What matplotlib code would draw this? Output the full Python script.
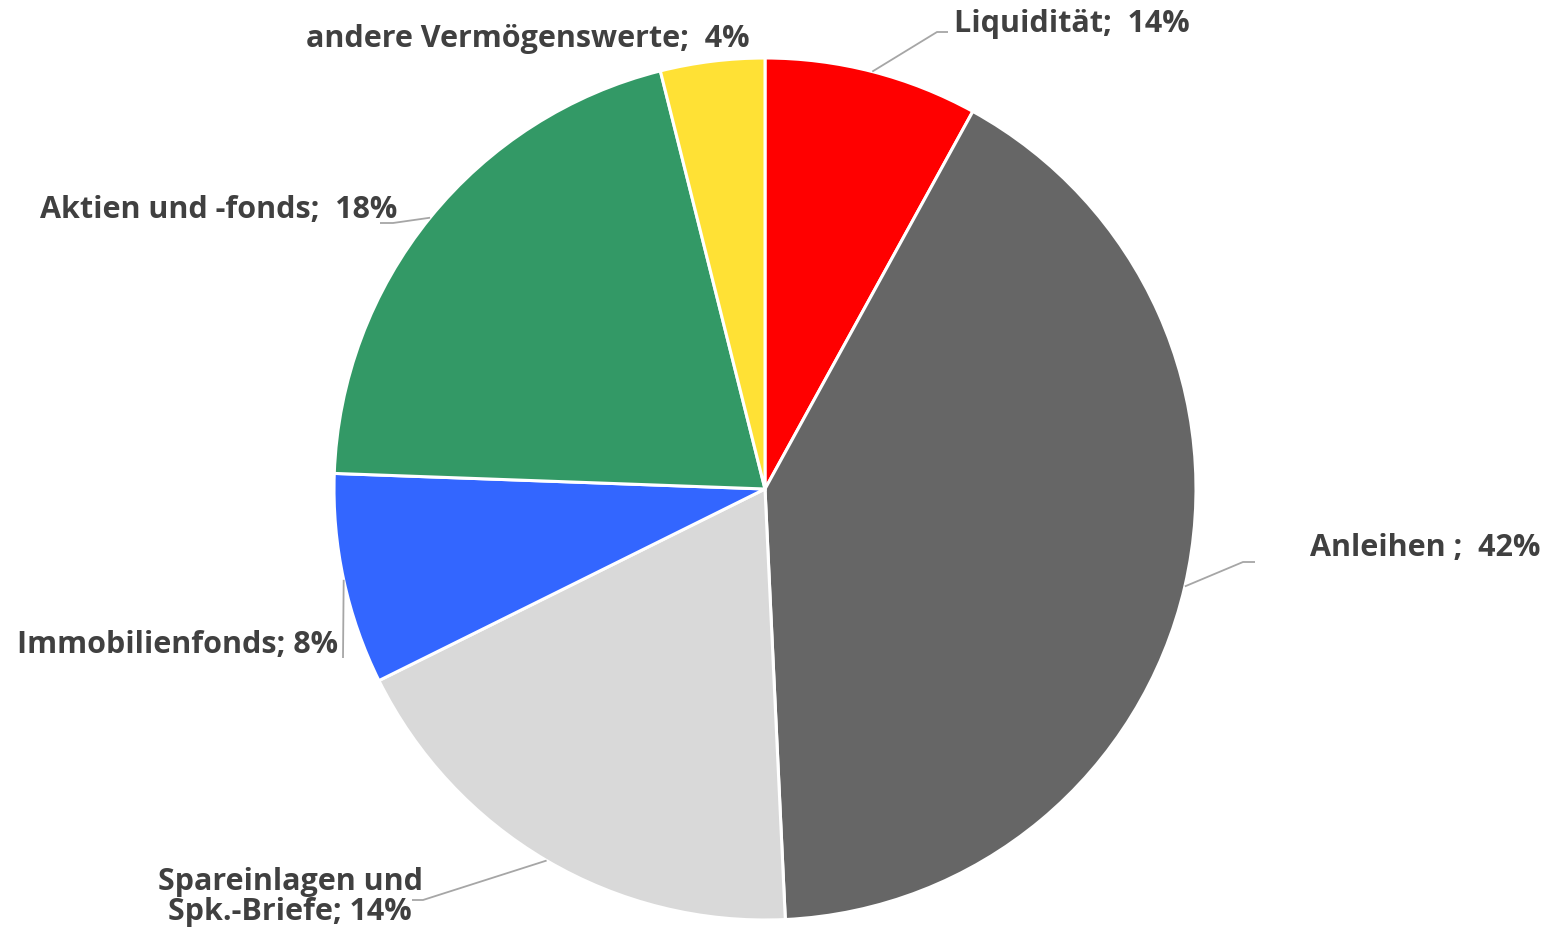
import numpy as np
import matplotlib.pyplot as plt

# slice sizes (the printed labels differ from the geometry)
categories = ["Liquidität", "Anleihen", "Spareinlagen und Spk.-Briefe",
              "Immobilienfonds", "Aktien und -fonds", "andere Vermögenswerte"]
values = [8.0, 41.2, 18.4, 7.9, 20.5, 3.9]
labels = ["Liquidität;  14%", "Anleihen ;  42%", "Spareinlagen und\nSpk.-Briefe; 14%",
          "Immobilienfonds; 8%", "Aktien und -fonds;  18%", "andere Vermögenswerte;  4%"]
colors = ["#FF0000", "#666666", "#D9D9D9", "#3366FF", "#339966", "#FFE135"]

W, H = 1551, 928
cx, cy, r = 765, 490, 431  # pixel layout, y from top

# label layout: (x, y, ha) and leader bend/end points, pixel coords from top
label_pos = [(954, 24, "left"), (1310, 548, "left"), (290, 897, "center"),
             (338, 645, "right"), (40, 210, "left"), (306, 39, "left")]
leader = [[(937, 33), (948, 33)], [(1243, 563), (1255, 563)],
          [(423, 901), (412, 901)], [(343, 659)],
          [(393, 224), (380, 224)], None]

fig = plt.figure(figsize=(W / 100, H / 100), dpi=100)
ax = fig.add_axes([0, 0, 1, 1])

wedges, _ = ax.pie(values, colors=colors, startangle=90, counterclock=False,
                   center=(cx, H - cy), radius=r,
                   wedgeprops=dict(edgecolor="white", linewidth=2.2))
ax.set_xlim(0, W)
ax.set_ylim(0, H)
ax.set_aspect("equal")
ax.axis("off")

for w, lab, (tx, ty, ha), pts in zip(wedges, labels, label_pos, leader):
    # leader starts on the arc at the wedge's middle angle
    mid = np.deg2rad((w.theta1 + w.theta2) / 2)
    sx = cx + r * np.cos(mid)
    sy = (H - cy) + r * np.sin(mid)
    if pts is not None:
        xs = [sx] + [p[0] for p in pts]
        ys = [sy] + [H - p[1] for p in pts]
        ax.plot(xs, ys, color="#A6A6A6", lw=1.3, solid_capstyle="butt")
    ax.text(tx, H - ty, lab, ha=ha, va="center", multialignment="center",
            fontsize=22, fontweight="bold", color="#404040", family="Open Sans",
            linespacing=1.02)

fig.savefig("out.png", dpi=100)
